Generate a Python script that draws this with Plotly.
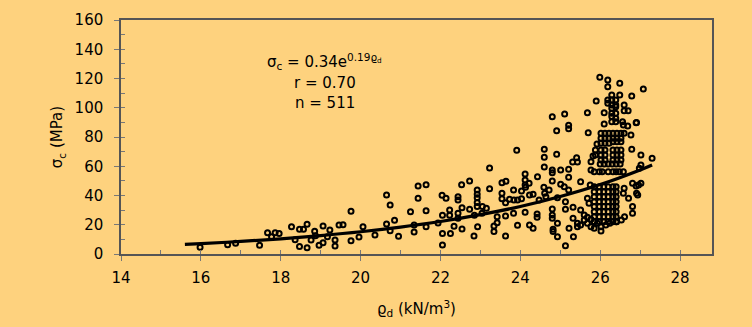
import plotly.graph_objects as go

# ---- data ----
rho_d = [
    15.98, 16.67, 16.87, 17.47, 17.67, 17.77, 17.86, 17.96, 18.27, 18.36, 18.47, 18.47, 18.57, 18.66, 18.66,
    18.76, 18.85, 18.87, 18.96, 19.06, 19.06, 19.17, 19.23, 19.36, 19.36, 19.46, 19.56, 19.76, 19.76, 19.96,
    20.06, 20.36, 20.65, 20.65, 20.74, 20.74, 20.85, 20.95, 21.25, 21.34, 21.34, 21.44, 21.44, 21.64, 21.64,
    21.64, 21.94, 22.04, 22.05, 22.05, 22.05, 22.14, 22.23, 22.23, 22.25, 22.34, 22.44, 22.44, 22.44, 22.44,
    22.53, 22.54, 22.54, 22.73, 22.73, 22.84, 22.92, 22.92, 22.92, 22.92, 22.92, 22.93, 22.85,
    # middle band
    24.80, 25.11, 24.91, 25.21, 25.21, 23.91, 24.60, 24.60, 24.91, 23.23, 24.60, 24.80, 24.80, 25.01, 25.21,
    25.31, 25.43, 25.41, 24.12, 24.12, 24.12, 24.22, 24.43, 23.54, 23.64, 23.23, 23.54, 23.54, 23.83, 24.03,
    24.13, 24.23, 24.32, 24.59, 24.61, 24.72, 24.80, 25.01, 25.10, 25.21, 25.21, 24.93, 24.64, 24.47, 23.84,
    23.93, 24.03, 23.73, 23.63, 23.05, 23.15, 23.04, 23.42, 23.63, 23.83, 24.12, 24.42, 24.42, 24.80, 24.80,
    24.80, 25.13, 25.13, 25.32, 25.32, 25.43, 25.43, 23.42, 23.34, 23.34, 23.93, 24.23, 24.32, 24.93, 24.82,
    24.82, 24.93, 25.22, 25.33, 23.63, 25.13,
    # column, upper part
    25.99, 26.19, 26.19, 26.49, 26.79, 25.90, 25.68, 26.10, 26.29, 26.49, 26.19, 26.29, 26.39, 26.19, 26.29,
    26.39, 26.29, 26.39, 26.60, 26.60, 26.70, 26.29, 26.39, 26.29, 26.39, 26.29, 26.39, 26.56, 26.58, 26.69,
    26.90, 26.10, 25.70,
    26.02, 26.12, 26.22, 26.32, 26.42, 26.52, 26.60, 26.77,
    26.02, 26.12, 26.22, 26.32, 26.42, 26.52,
    26.02, 26.12, 26.22, 26.32, 26.42, 26.52, 25.92, 26.79,
    26.02, 26.12, 26.32, 26.42, 26.52, 25.88, 25.88,
    26.02, 26.12, 26.32, 26.42, 26.52, 25.82,
    26.02, 26.12, 26.32, 26.42, 26.52, 25.77, 27.02,
    # column, lower part
    26.00, 26.10, 26.20, 26.30, 26.40, 26.50,
    25.77, 25.85, 25.98, 26.05, 26.20, 26.32, 26.40, 26.48, 26.58,
    25.51, 26.81, 26.90, 25.75,
    25.85, 25.98, 26.09, 26.20, 26.32, 26.40,
    25.85, 25.98, 26.09, 26.20, 26.32, 26.40,
    25.85, 25.98, 26.09, 26.20, 26.32, 26.40,
    25.85, 25.98, 26.09, 26.20, 26.32, 26.40,
    25.85, 25.98, 26.09, 26.20, 26.32, 26.40,
    25.85, 25.98, 26.09, 26.20, 26.32, 26.40,
    25.85, 25.98, 26.09, 26.20, 26.32, 26.40,
    25.85, 25.98, 26.09, 26.20, 26.32, 26.40,
    26.60, 26.58, 26.71, 26.91, 25.68, 25.72, 26.81, 26.81, 25.51,
    25.60, 25.68, 25.77, 25.85, 25.93, 26.02, 26.02, 26.14, 26.24, 26.41, 26.53, 26.61,
    25.60, 25.68, 25.77, 25.85, 25.51,
    # right edge
    27.08, 26.91, 27.30, 27.02, 26.98, 27.02, 26.96, 26.94,
]

sigma_c = [
    4.6, 6.4, 7.3, 5.9, 14.6, 11.8, 14.6, 14.1, 18.7, 9.8, 16.9, 5.2, 16.9, 20.3, 4.3,
    9.6, 15.5, 12.5, 5.9, 19.1, 7.7, 11.8, 16.4, 9.6, 5.5, 19.8, 20.0, 29.2, 9.1, 11.6,
    18.7, 13.0, 40.3, 20.5, 33.5, 15.9, 23.0, 12.1, 28.9, 19.8, 15.0, 46.5, 38.1, 47.4, 29.6,
    18.7, 21.2, 40.1, 26.5, 14.1, 6.2, 38.1, 30.1, 26.5, 14.1, 18.9, 39.2, 36.9, 27.8, 24.4,
    47.4, 31.7, 17.1, 49.9, 30.6, 12.3, 43.8, 40.8, 38.5, 35.2, 32.4, 18.7, 26.5,
    # middle band
    93.9, 95.7, 84.3, 88.0, 85.7, 70.9, 71.6, 66.1, 68.2, 58.8, 59.5, 57.4, 55.6, 57.4, 57.9,
    62.9, 62.9, 65.8, 54.7, 50.6, 47.2, 48.3, 52.9, 48.8, 49.7, 44.7, 41.5, 37.8, 43.8, 43.1,
    45.6, 40.3, 40.8, 45.6, 41.5, 43.8, 49.9, 47.7, 46.0, 52.4, 43.8, 38.5, 39.2, 36.9, 36.9,
    36.9, 37.8, 37.4, 35.1, 32.4, 31.2, 27.8, 25.5, 26.0, 27.8, 28.5, 27.3, 25.1, 30.8, 26.7,
    24.4, 30.6, 35.8, 31.9, 24.4, 21.0, 18.7, 21.4, 19.1, 15.3, 19.6, 19.8, 17.6, 21.0, 16.9,
    15.3, 11.8, 17.6, 11.8, 12.3, 5.7,
    # column, upper part
    120.8, 119.0, 114.4, 116.7, 108.0, 104.6, 96.6, 96.6, 108.7, 108.7, 105.3, 105.3, 105.3, 103.0, 101.9,
    101.9, 99.6, 100.7, 101.9, 98.0, 98.0, 96.2, 96.2, 94.0, 92.8, 90.5, 90.5, 90.5, 88.2, 87.5,
    89.8, 88.9, 82.9,
    82.5, 82.5, 82.5, 82.5, 82.5, 82.5, 82.5, 81.4,
    79.1, 79.1, 79.1, 79.1, 79.1, 79.1,
    75.7, 75.7, 75.7, 76.8, 76.8, 76.8, 75.2, 71.6,
    71.1, 71.1, 71.1, 71.1, 71.1, 71.1, 67.7,
    67.7, 67.7, 67.7, 67.7, 67.7, 67.0,
    64.3, 64.3, 64.3, 64.3, 64.3, 63.1, 67.7,
    # column, lower part
    61.5, 61.5, 61.5, 61.5, 61.5, 61.5,
    57.4, 56.3, 56.3, 56.3, 56.3, 56.3, 56.3, 56.3, 56.3,
    49.4, 48.3, 46.5, 47.2,
    46.0, 46.0, 46.0, 46.0, 46.0, 46.0,
    42.6, 42.6, 42.6, 42.6, 42.6, 42.6,
    39.2, 39.2, 39.2, 39.2, 39.2, 39.2,
    35.8, 35.8, 35.8, 35.8, 35.8, 35.8,
    32.4, 32.4, 32.4, 32.4, 32.4, 32.4,
    28.9, 28.9, 28.9, 28.9, 28.9, 28.9,
    25.5, 25.5, 25.5, 25.5, 25.5, 25.5,
    22.1, 22.1, 22.1, 22.1, 22.1, 22.1,
    44.9, 41.5, 38.1, 41.5, 38.1, 34.7, 32.4, 27.8, 30.1,
    26.7, 25.1, 23.7, 22.1, 21.0, 18.7, 15.7, 19.8, 21.0, 22.1, 23.2, 25.5,
    23.2, 21.0, 18.7, 17.6, 19.8,
    # right edge
    112.8, 90.0, 65.4, 60.9, 58.6, 48.3, 47.2, 40.3,
]

# fitted curve sigma_c = 0.34 e^(0.19 rho_d)
fit_x = [15.6, 16, 17, 18, 19, 20, 21, 22, 23, 24, 25, 26, 27, 27.3]
fit_y = [6.6, 7.1, 8.6, 10.4, 12.6, 15.2, 18.4, 22.2, 26.9, 32.5, 39.3, 47.5, 57.5, 60.9]

x_ticks = [14, 16, 18, 20, 22, 24, 26, 28]
y_ticks = [0, 20, 40, 60, 80, 100, 120, 140, 160]

X_RANGE = [14, 28.8]
Y_RANGE = [0, 160]

BG = "#FED27E"
FONT = "DejaVu Sans, Liberation Sans, Arial, sans-serif"
AX = "#555555"
TICK = "#777777"

fig = go.Figure()
fig.add_trace(go.Scatter(
    x=rho_d, y=sigma_c, mode="markers",
    marker=dict(symbol="circle-open", size=5, color="black", line=dict(width=2, color="black")),
    hoverinfo="skip", showlegend=False,
))
fig.add_trace(go.Scatter(
    x=fit_x, y=fit_y, mode="lines", line=dict(color="black", width=3.2, shape="spline"),
    hoverinfo="skip", showlegend=False,
))
# invisible trace to activate overlay axes carrying the inside ticks
fig.add_trace(go.Scatter(x=[X_RANGE[0]], y=[Y_RANGE[0]], xaxis="x2", yaxis="y2",
                         mode="markers", marker=dict(opacity=0), hoverinfo="skip", showlegend=False))

ann_font = dict(size=15, color="black", family=FONT)
fig.add_annotation(x=0.345, y=0.822, xref="paper", yref="paper", showarrow=False,
                   text="σ<sub>c</sub> = 0.34e<sup>0.19ϱ<sub>d</sub></sup>",
                   font=ann_font, xanchor="center", yanchor="middle")
fig.add_annotation(x=0.345, y=0.7295, xref="paper", yref="paper", showarrow=False,
                   text="r = 0.70", font=ann_font, xanchor="center", yanchor="middle")
fig.add_annotation(x=0.345, y=0.6466, xref="paper", yref="paper", showarrow=False,
                   text="n = 511", font=ann_font, xanchor="center", yanchor="middle")

fig.update_layout(
    width=752, height=327,
    margin=dict(l=121, r=40, t=20, b=73),
    paper_bgcolor=BG, plot_bgcolor=BG,
    font=dict(family=FONT, size=15, color="black"),
    xaxis=dict(
        range=X_RANGE, tickmode="array", tickvals=x_ticks,
        ticks="outside", ticklen=5, tickcolor=TICK, tickwidth=1,
        showline=True, linecolor=AX, linewidth=1.5, mirror=True,
        showgrid=False, zeroline=False,
        title=dict(text="ϱ<sub>d</sub> (kN/m<sup>3</sup>)", font=dict(size=15), standoff=18),
        tickfont=dict(size=15), ticklabelstandoff=4,
    ),
    yaxis=dict(
        range=Y_RANGE, tickmode="array", tickvals=y_ticks,
        ticks="outside", ticklen=5, tickcolor=TICK, tickwidth=1,
        showline=True, linecolor=AX, linewidth=1.5, mirror=True,
        showgrid=False, zeroline=False,
        title=dict(text="σ<sub>c</sub> (MPa)", font=dict(size=15), standoff=8),
        tickfont=dict(size=15), ticklabelstandoff=8,
    ),
    xaxis2=dict(range=X_RANGE, overlaying="x", dtick=1, tick0=14, ticks="inside", ticklen=4,
                tickcolor=TICK, showticklabels=False, showgrid=False, zeroline=False, showline=False),
    yaxis2=dict(range=Y_RANGE, overlaying="y", dtick=10, tick0=0, ticks="inside", ticklen=4,
                tickcolor=TICK, showticklabels=False, showgrid=False, zeroline=False, showline=False),
)

fig.write_html("out.html")
